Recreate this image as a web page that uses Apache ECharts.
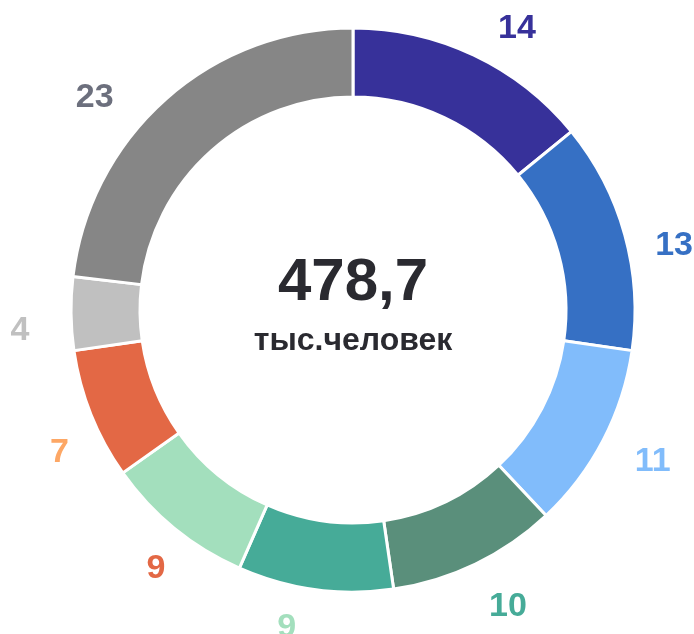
<!DOCTYPE html>
<html><head><meta charset="utf-8">
<script src="https://cdn.jsdelivr.net/npm/echarts@6/dist/echarts.min.js"></script>
<style>html,body{margin:0;padding:0;background:#fff}#c{width:694px;height:634px}</style>
</head><body><div id="c"></div>
<script>
// Shares of the total (percent)
var categories = ['A','B','C','D','E','F','G','H','I'];
var shares = [14.1, 13.2, 10.7, 9.7, 8.9, 8.6, 7.5, 4.2, 23.1];
// Rounded percentages printed next to the slices
var percentLabels = [14, 13, 11, 10, 9, 9, 7, 4, 23];
var totalText = '478,7';
var unitText = 'тыс.человек';

// Styling
var sliceColors = ['#37319a','#3670c4','#81bcfb','#5a8f7b','#46ab98','#a3dfbd','#e36845','#c0c0c0','#868686'];
var labelColors = ['#37319a','#3670c4','#81bcfb','#46ab98','#a3dfbd','#e36845','#fda765','#c0c0c0','#6c6f7d'];
var labelNudge = [[23,16],[4,23],[8,0],[12,0],[-22,-8],[11,4],[12,21],[-4,16],[-40,34]];

var chart = echarts.init(document.getElementById('c'), null, {renderer:'canvas'});
var font = '"Liberation Sans", Arial, sans-serif';
chart.setOption({
  animation: false,
  series: [{
    type: 'pie', center: [353, 310], radius: [213, 282], startAngle: 90, clockwise: true,
    silent: true, label: {show: false}, labelLine: {show: false},
    itemStyle: {borderColor: '#fff', borderWidth: 3},
    data: categories.map(function(c, i){ return {name: c, value: shares[i], itemStyle: {color: sliceColors[i]}}; })
  }, {
    type: 'pie', center: [353, 310], radius: [300, 352], startAngle: 90, clockwise: true,
    silent: true, labelLine: {show: false},
    itemStyle: {color: 'rgba(0,0,0,0)'},
    label: {show: true, position: 'inside', fontFamily: font, fontWeight: 'bold', fontSize: 34},
    data: categories.map(function(c, i){
      return {name: c, value: shares[i],
        label: {color: labelColors[i], offset: labelNudge[i], formatter: String(percentLabels[i])}};
    })
  }],
  graphic: [
    {type: 'text', x: 353, y: 283, style: {text: totalText, fill: '#2a2a30', font: 'bold 60px ' + font, textAlign: 'center', textVerticalAlign: 'middle'}},
    {type: 'text', x: 353, y: 341, style: {text: unitText, fill: '#2a2a30', font: 'bold 32px ' + font, textAlign: 'center', textVerticalAlign: 'middle'}}
  ]
});
</script></body></html>
